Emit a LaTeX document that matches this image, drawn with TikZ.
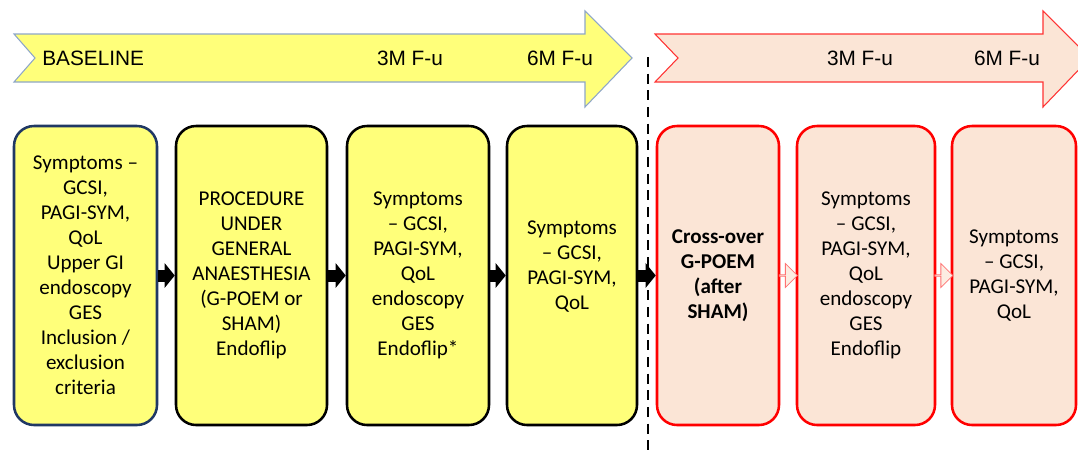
\documentclass[tikz,border=0pt]{standalone}
\usepackage{fontspec}
\setmainfont{Carlito}
\newfontfamily\arialfont{Liberation Sans}
\usetikzlibrary{arrows.meta,shapes.arrows}
\definecolor{boxyellow}{HTML}{FFFF7A}
\definecolor{boxpeach}{HTML}{FBE5D6}
\definecolor{navyedge}{HTML}{203864}
\definecolor{arrowedge}{HTML}{8EA6C8}
\definecolor{rededge}{HTML}{FF0000}

\begin{document}
\begin{tikzpicture}[x=0.75pt,y=-0.75pt]
\tikzstyle{every node}+=[inner sep=0pt]
\tikzstyle{stage}=[rectangle, rounded corners=15pt, line width=1.9pt, minimum height=224.25pt, align=center, font=\fontsize{15.8}{18.75}\selectfont]
\tikzstyle{yellowstage}=[stage, draw=black, fill=boxyellow]
\tikzstyle{peachstage}=[stage, draw=rededge, fill=boxpeach]
\tikzstyle{timelabel}=[font=\arialfont\fontsize{15.6}{18}\selectfont]
\tikzstyle{blockarrow}=[line width=9pt, -{Triangle[length=7.5pt,width=18pt]}]
\tikzstyle{pinkarrow}=[single arrow, draw=rededge!55, fill=boxpeach!70, line width=0.6pt, minimum width=18pt, single arrow head extend=4.5pt, minimum height=13.5pt]
\clip (0,0) rectangle (1078,450);
\draw [arrowedge, fill=boxyellow, line width=0.8pt] (14,34) -- (585,34) -- (585,11) -- (632,58) -- (585,107) -- (585,82) -- (14,82) -- (35,58) -- cycle;
\draw [rededge!80, fill=boxpeach, line width=0.8pt] (655,34) -- (1043,34) -- (1043,11) -- (1090,58) -- (1043,107) -- (1043,82) -- (655,82) -- (678,58) -- cycle;
\node [timelabel, anchor=west] (base) at (42,58) {BASELINE};
\node [timelabel] (ya) at (410,58) {3M F-u};
\node [timelabel] (yb) at (560,58) {6M F-u};
\node [timelabel] (ra) at (860,58) {3M F-u};
\node [timelabel] (rb) at (1007,58) {6M F-u};
\draw [black, line width=1.9pt, dash pattern=on 7.5pt off 5pt] (648,57) -- (648,450);
\node [stage, draw=navyedge, fill=boxyellow, minimum width=107.25pt] (b1) at (85.5,275.5) {Symptoms –\\GCSI,\\PAGI-SYM,\\QoL\\Upper GI\\endoscopy\\GES\\Inclusion /\\exclusion\\criteria};
\node [yellowstage, minimum width=113.25pt] (b2) at (251.5,275.5) {PROCEDURE\\UNDER\\GENERAL\\ANAESTHESIA\\(G-POEM or\\SHAM)\\Endoflip};
\node [yellowstage, minimum width=106.5pt] (b3) at (418,275.5) {Symptoms\\– GCSI,\\PAGI-SYM,\\QoL\\endoscopy\\GES\\Endoflip*};
\node [yellowstage, minimum width=97.5pt] (b4) at (572,275.5) {Symptoms\\– GCSI,\\PAGI-SYM,\\QoL\\[-3.75pt]};
\node [peachstage, minimum width=91.5pt, font=\fontsize{15.8}{18.75}\selectfont\bfseries] (b5) at (718,275.5) {Cross-over\\G-POEM\\(after\\SHAM)};
\node [peachstage, minimum width=103.5pt] (b6) at (866,275.5) {Symptoms\\– GCSI,\\PAGI-SYM,\\QoL\\endoscopy\\GES\\Endoflip};
\node [peachstage, minimum width=93pt] (b7) at (1014,275.5) {Symptoms\\– GCSI,\\PAGI-SYM,\\QoL};
\draw [blockarrow] (b1.east) -- (b2.west);
\draw [blockarrow] (b2.east) -- (b3.west);
\draw [blockarrow] (b3.east) -- (b4.west);
\draw [blockarrow] (b4.east) -- (b5.west);
\path (b5.east) -- node [pinkarrow] {} (b6.west);
\path (b6.east) -- node [pinkarrow] {} (b7.west);
\end{tikzpicture}
\end{document}
